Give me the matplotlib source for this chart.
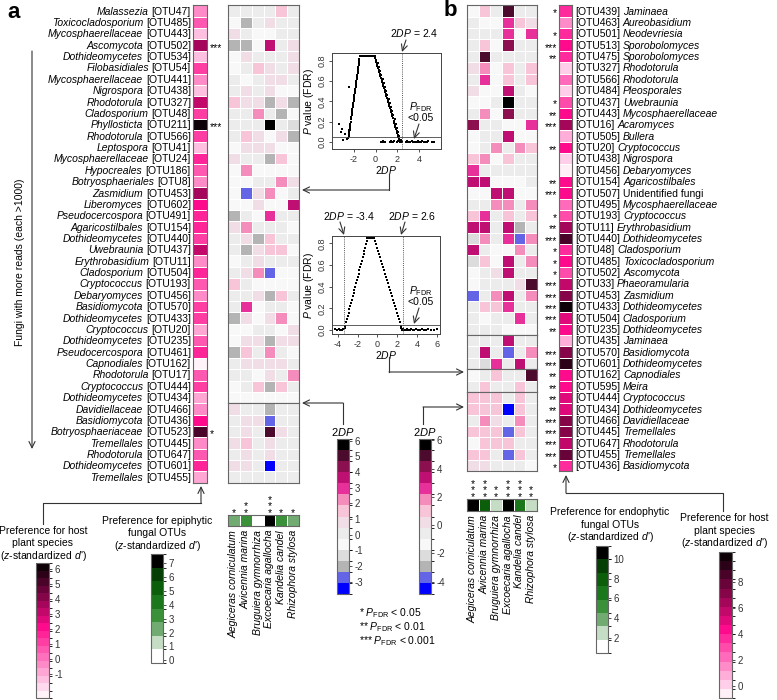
import matplotlib
matplotlib.use("Agg")
import matplotlib.pyplot as plt
import numpy as np
from matplotlib.colors import ListedColormap, BoundaryNorm, LinearSegmentedColormap
from matplotlib.cm import ScalarMappable

plt.rcParams["font.family"] = ["Liberation Sans", "DejaVu Sans"]
plt.rcParams["mathtext.fontset"] = "custom"
plt.rcParams["mathtext.rm"] = "Liberation Sans"
plt.rcParams["mathtext.it"] = "Liberation Sans:italic"
plt.rcParams["mathtext.bf"] = "Liberation Sans:bold"
plt.rcParams["axes.unicode_minus"] = False

W, H = 777, 700

# ---------------- data ----------------
species = ["Aegiceras corniculatum", "Avicennia marina", "Bruguiera gymnorrhiza",
           "Excoecaria agallocha", "Kandelia candel", "Rhizophora stylosa"]

a_taxa = ["Malassezia", "Toxicocladosporium", "Mycosphaerellaceae", "Ascomycota", "Dothideomycetes",
          "Filobasidiales", "Mycosphaerellaceae", "Nigrospora", "Rhodotorula", "Cladosporium",
          "Phyllosticta", "Rhodotorula", "Leptospora", "Mycosphaerellaceae", "Hypocreales",
          "Botryosphaeriales", "Zasmidium", "Liberomyces", "Pseudocercospora", "Agaricostilbales",
          "Dothideomycetes", "Uwebraunia", "Erythrobasidium", "Cladosporium", "Cryptococcus",
          "Debaryomyces", "Basidiomycota", "Dothideomycetes", "Cryptococcus", "Dothideomycetes",
          "Pseudocercospora", "Capnodiales", "Rhodotorula", "Cryptococcus", "Dothideomycetes",
          "Davidiellaceae", "Basidiomycota", "Botryosphaeriaceae", "Tremellales", "Rhodotorula",
          "Dothideomycetes", "Tremellales"]
a_otus = ["OTU47", "OTU485", "OTU443", "OTU502", "OTU534", "OTU54", "OTU441", "OTU438", "OTU327",
          "OTU48", "OTU211", "OTU566", "OTU41", "OTU24", "OTU186", "OTU8", "OTU453", "OTU602",
          "OTU491", "OTU154", "OTU440", "OTU437", "OTU11", "OTU504", "OTU193", "OTU456", "OTU570",
          "OTU433", "OTU20", "OTU235", "OTU461", "OTU162", "OTU17", "OTU444", "OTU434", "OTU466",
          "OTU436", "OTU523", "OTU445", "OTU647", "OTU601", "OTU455"]
a_sig = ["", "", "", "***", "", "", "", "", "", "", "***", "", "", "", "", "", "", "", "", "", "",
         "", "", "", "", "", "", "", "", "", "", "", "", "", "", "", "", "*", "", "", "", ""]
a_host = [-0.4, 0.6, -1.4, 3.7, -1.4, 1.1, -0.4, -1.4, 3.2, 1.1, 6.2, 1.1, -1.4, 1.7, 0.6, -0.4,
          3.7, 2.2, 1.7, 1.7, 1.1, 3.2, -0.4, 1.7, 0.6, -0.4, 1.1, 1.1, -0.9, 0.6, 1.7, -2.4, 0.6,
          1.1, -0.9, -0.4, 2.2, 5.2, -0.4, 0.6, 1.7, -0.9]
a_2dp = [
    [0.1, 0.1, 0.1, 0.1, 1.5, 0.1],
    [-0.6, -2.0, 0.1, 0.8, 0.1, 0.1],
    [0.8, 0.1, -0.6, -0.6, 0.1, 0.1],
    [-2.0, -2.0, -0.6, 3.6, 0.1, 0.8],
    [-0.6, 0.8, 0.1, 0.1, 0.1, 0.8],
    [-0.6, 0.1, 1.5, 0.8, 0.1, 0.8],
    [0.1, -0.6, 0.1, 0.8, 0.8, 0.1],
    [0.1, 0.8, 0.1, 0.8, -0.6, -0.6],
    [1.5, 0.8, 0.8, -2.0, 0.8, -2.0],
    [0.1, 0.1, 2.2, 0.1, -2.0, -0.6],
    [0.1, 0.1, 0.1, 5.7, 0.1, -1.3],
    [0.1, 1.5, 0.8, -0.6, 0.8, -2.0],
    [-0.6, 0.8, 0.8, 0.8, -0.6, -0.6],
    [0.8, 0.1, 0.1, -2.0, 1.5, -0.6],
    [-0.6, 2.2, -0.6, -0.6, -0.6, -0.6],
    [-0.6, -0.6, 0.1, 0.1, 2.2, 0.8],
    [-0.6, -2.7, 0.8, 2.2, -0.6, 0.1],
    [-0.6, -0.6, 0.8, -0.6, -0.6, 3.6],
    [-2.0, 0.1, -0.6, 2.9, 0.1, 0.1],
    [0.8, 2.2, 0.1, 0.1, 0.1, -0.6],
    [0.1, 0.8, -2.0, 1.5, 0.1, 0.1],
    [0.1, -2.0, 0.8, 1.5, 1.5, -0.6],
    [-0.6, 0.1, 0.8, 0.1, 0.1, 0.1],
    [0.1, 0.8, 2.2, -2.7, -0.6, -0.6],
    [1.5, 0.1, -0.6, -0.6, -0.6, -0.6],
    [0.1, 0.1, 0.8, -2.0, 1.5, 0.1],
    [0.1, 2.9, -0.6, 0.1, 0.1, -0.6],
    [-2.0, 0.8, -0.6, 0.8, 2.2, -0.6],
    [-0.6, -0.6, 0.1, 0.1, -0.6, 0.8],
    [-0.6, 0.8, 0.8, -2.0, 0.8, 0.8],
    [-2.0, 1.5, 0.1, 2.2, 0.1, -0.6],
    [0.1, 0.8, 0.8, 0.8, 0.8, 0.1],
    [0.1, 0.1, -0.6, 0.8, 0.1, 2.2],
    [-0.6, 0.1, 1.5, -2.0, 1.5, 0.1],
    [-0.6, -0.6, -0.6, -0.6, -0.6, -0.6],
    [0.8, 0.1, 0.1, -2.0, 0.1, 0.1],
    [0.1, 0.8, 0.8, -2.7, 0.1, 0.1],
    [0.1, 0.8, 0.1, 5.0, 0.8, 0.1],
    [0.8, 1.5, 0.1, 0.8, 0.1, 0.1],
    [0.1, 0.8, 0.1, 0.8, 0.1, 0.1],
    [0.8, 0.8, 0.1, -3.4, 0.1, 0.1],
    [0.1, 0.1, 0.1, 0.1, 0.1, 0.1],
]
a_blocks = [(0, 35), (35, 42)]
a_strip = [2.3, 3.2, 0.3, 7.2, 3.2, 2.3]
a_strip_sig = [1, 2, 0, 3, 1, 1]

b_otus = ["OTU439", "OTU463", "OTU501", "OTU513", "OTU475", "OTU327", "OTU566", "OTU484", "OTU437",
          "OTU443", "OTU16", "OTU505", "OTU20", "OTU438", "OTU456", "OTU154", "OTU507", "OTU495",
          "OTU193", "OTU11", "OTU440", "OTU48", "OTU485", "OTU502", "OTU33", "OTU453", "OTU433",
          "OTU504", "OTU235", "OTU435", "OTU570", "OTU601", "OTU162", "OTU595", "OTU444", "OTU434",
          "OTU466", "OTU445", "OTU647", "OTU455", "OTU436"]
b_taxa = ["Jaminaea", "Aureobasidium", "Neodevriesia", "Sporobolomyces", "Sporobolomyces",
          "Rhodotorula", "Rhodotorula", "Pleosporales", "Uwebraunia", "Mycosphaerellaceae",
          "Acaromyces", "Bullera", "Cryptococcus", "Nigrospora", "Debaryomyces", "Agaricostilbales",
          "Unidentified fungi", "Mycosphaerellaceae", "Cryptococcus", "Erythrobasidium",
          "Dothideomycetes", "Cladosporium", "Toxicocladosporium", "Ascomycota", "Phaeoramularia",
          "Zasmidium", "Dothideomycetes", "Cladosporium", "Dothideomycetes", "Jaminaea",
          "Basidiomycota", "Dothideomycetes", "Capnodiales", "Meira", "Cryptococcus",
          "Dothideomycetes", "Davidiellaceae", "Tremellales", "Rhodotorula", "Tremellales",
          "Basidiomycota"]
b_sig = ["*", "", "*", "***", "**", "", "", "", "*", "**", "***", "", "**", "", "", "**", "***", "",
         "*", "**", "***", "*", "*", "*", "***", "***", "***", "***", "**", "", "***", "***", "**",
         "**", "**", "**", "***", "***", "***", "***", "*"]
b_host = [3.6, 1.5, 3.6, 4.3, 3.6, 0.1, 2.2, 0.1, 2.9, 4.3, 6.4, 0.8, 4.3, 0.1, -0.6, 4.3, 4.3, 2.2,
          2.9, 6.4, 8.5, 3.6, 4.3, 2.9, 5.7, 7.1, 9.9, 5.0, 4.3, 0.8, 7.1, 9.2, 4.3, 4.3, 5.0, 5.0,
          7.1, 7.1, 5.7, 7.8, 3.6]
b_2dp = [
    [-1.3, 1.0, -0.5, 5.0, -0.5, -0.5],
    [-0.5, -1.3, -1.3, 2.6, 1.0, 0.2],
    [-0.5, -0.5, -0.5, 2.6, -1.3, 2.6],
    [-0.5, 1.0, -1.3, 4.2, -0.5, -0.5],
    [-0.5, 5.3, -0.5, -0.5, -0.5, -0.5],
    [0.2, 1.8, -1.3, 1.0, -0.5, 1.0],
    [-0.5, 2.6, -1.3, 1.0, -0.5, 1.0],
    [0.2, -1.3, -1.3, 3.4, -0.5, -1.3],
    [-1.3, -1.3, -0.5, 5.7, -0.5, -0.5],
    [-0.5, 1.8, -1.3, 4.2, -0.5, -0.5],
    [4.2, -0.5, -0.5, -1.3, -1.3, 2.6],
    [-1.3, -0.5, -0.5, 3.4, -1.3, -1.3],
    [-1.3, -0.5, 1.8, -0.5, 1.8, 1.0],
    [1.0, 1.8, -1.3, 1.0, -0.5, -0.5],
    [2.6, -0.5, -0.5, -0.5, -0.5, -0.5],
    [3.4, 3.4, -1.3, -1.3, -1.3, -0.5],
    [-1.3, -1.3, 3.4, 3.4, -1.3, -1.3],
    [-0.5, -0.5, 1.8, 1.8, -0.5, 1.8],
    [1.0, 2.6, -0.5, 1.0, -0.5, 1.0],
    [3.4, 3.4, -0.5, 3.4, -2.9, -0.5],
    [-2.1, 1.8, -0.5, 2.6, -3.7, 1.8],
    [3.4, -0.5, -1.3, -1.3, 1.8, -0.5],
    [-2.1, 1.0, -1.3, 3.4, -0.5, 1.8],
    [-1.3, -0.5, 0.2, 3.4, -0.5, -0.5],
    [-1.3, -0.5, -0.5, -0.5, 0.2, 5.0],
    [-3.7, -0.5, 1.8, 3.4, -0.5, 1.8],
    [-0.5, 1.0, 1.0, 2.6, -0.5, -0.5],
    [-0.5, -1.3, -0.5, -0.5, 2.6, -0.5],
    [-0.5, -0.5, -0.5, -1.3, -1.3, -1.3],
    [-0.5, -0.5, -0.5, 3.4, -0.5, -0.5],
    [-0.5, 3.4, -0.5, -3.7, -0.5, 1.8],
    [-0.5, -2.1, 2.6, -0.5, 3.4, -0.5],
    [-1.3, -0.5, 1.0, -0.5, -0.5, 5.0],
    [-0.5, 1.0, -0.5, -0.5, 1.0, -0.5],
    [1.0, 1.0, 1.0, -0.5, 1.0, -0.5],
    [1.0, 1.0, 1.0, -4.5, 1.0, -0.5],
    [-0.5, 1.8, 0.2, -0.5, 1.8, -0.5],
    [1.0, 1.0, 1.0, -3.7, 1.0, -0.5],
    [-1.3, 1.0, 1.0, 1.0, -0.5, -0.5],
    [1.0, 1.0, -0.5, -3.7, 1.0, -0.5],
    [0.2, 0.2, -0.5, -0.5, -0.5, -1.3],
]
b_blocks = [(0, 29), (29, 32), (32, 34), (34, 41)]
b_strip = [10.6, 7.9, 2.5, 10.6, 6.5, 2.5]
b_strip_sig = [3, 3, 2, 3, 3, 2]

# null-model scatter, panel a (2DP vs FDR P)
up_peak_x = [-1.45, -1.35, -1.25, -1.15, -1.05, -0.95, -0.85, -0.75, -0.65, -0.55, -0.45, -0.35, -0.25, -0.15, -0.05]
up_peak_y = [0.85, 0.85, 0.85, 0.85, 0.85, 0.85, 0.85, 0.85, 0.85, 0.85, 0.85, 0.85, 0.85, 0.85, 0.85]
up_left_x = [-1.48, -1.50, -1.53, -1.55, -1.58, -1.61, -1.63, -1.66, -1.68, -1.71, -1.74, -1.76, -1.79, -1.81,
             -1.84, -1.86, -1.89, -1.92, -1.94, -1.97, -1.99, -2.02, -2.05, -2.07, -2.10, -2.12, -2.15, -2.18,
             -2.20, -2.23, -2.25, -2.28, -2.31, -2.33, -2.36, -2.38, -2.41, -2.44, -2.46, -2.49]
up_left_y = [0.82, 0.80, 0.78, 0.76, 0.74, 0.72, 0.70, 0.68, 0.66, 0.64, 0.62, 0.60, 0.58, 0.56, 0.54, 0.52,
             0.50, 0.48, 0.46, 0.44, 0.42, 0.40, 0.38, 0.36, 0.34, 0.32, 0.30, 0.28, 0.26, 0.24, 0.22, 0.20,
             0.18, 0.16, 0.14, 0.12, 0.10, 0.08, 0.06, 0.04]
up_right_x = [-0.05, 0.00, 0.06, 0.11, 0.17, 0.22, 0.28, 0.33, 0.39, 0.44, 0.50, 0.55, 0.61, 0.66, 0.72, 0.77,
              0.83, 0.88, 0.94, 0.99, 1.05, 1.10, 1.16, 1.21, 1.27, 1.32, 1.37, 1.43, 1.48, 1.54, 1.59, 1.65,
              1.70, 1.76, 1.81, 1.87, 1.92, 1.98, 2.03, 2.09, 2.14, 2.20,
              0.21, 0.32, 0.43, 0.54, 0.65, 0.76, 0.86, 0.97, 1.08, 1.19, 1.30, 1.41, 1.52, 1.63, 1.74, 1.85,
              1.96, 2.07, 2.18, 2.29]
up_right_y = [0.83, 0.81, 0.79, 0.77, 0.75, 0.73, 0.71, 0.69, 0.67, 0.65, 0.63, 0.61, 0.59, 0.57, 0.55, 0.53,
              0.51, 0.49, 0.47, 0.45, 0.43, 0.41, 0.39, 0.37, 0.35, 0.33, 0.31, 0.29, 0.27, 0.25, 0.23, 0.21,
              0.19, 0.17, 0.15, 0.13, 0.11, 0.09, 0.07, 0.05, 0.03, 0.01,
              0.78, 0.74, 0.70, 0.66, 0.62, 0.58, 0.54, 0.50, 0.46, 0.42, 0.38, 0.34, 0.30, 0.26, 0.22, 0.18,
              0.14, 0.10, 0.06, 0.02]
up_floor_x = [0.45, 0.55, 0.65, 0.75, 0.90, 1.30, 1.40, 1.50, 1.60, 1.70, 2.00, 2.10, 2.20, 2.30, 2.40, 2.75,
              2.85, 2.95, 3.05, 3.20, 3.30, 3.40, 3.50, 3.70, 3.80, 3.90, 4.00, 4.10, 4.20, 4.30, 4.40, 4.50,
              4.60, 4.70, 4.80, 5.20, 5.30, 5.40]
up_floor_y = [0.00, 0.00, 0.01, 0.00, 0.00, 0.00, 0.01, 0.00, 0.00, 0.01, 0.00, 0.01, 0.00, 0.01, 0.00, 0.00,
              0.01, 0.00, 0.00, 0.00, 0.01, 0.00, 0.00, 0.00, 0.00, 0.01, 0.00, 0.00, 0.00, 0.01, 0.00, 0.00,
              0.00, 0.00, 0.01, 0.00, 0.00, 0.00]
up_out_x = [-2.46, -2.16, -2.22, -2.46, -2.85, -3.06, -3.20, -3.36, -2.60, -3.00]
up_out_y = [0.54, 0.30, 0.23, 0.12, 0.08, 0.13, 0.10, 0.18, 0.03, 0.02]

# null-model scatter, panel b
lo_peak_x = [-1.00, -0.90, -0.80, -0.70, -0.60, -0.50, -0.40, -0.30]
lo_peak_y = [0.85, 0.85, 0.85, 0.85, 0.85, 0.85, 0.85, 0.85]
lo_left_x = [-1.06, -1.14, -1.22, -1.31, -1.39, -1.48, -1.56, -1.64, -1.73, -1.81, -1.90, -1.98, -2.06, -2.15,
             -2.23, -2.32, -2.40, -2.48, -2.57, -2.65, -2.74, -2.82, -2.90, -2.99, -3.07, -3.16, -3.24, -3.30]
lo_left_y = [0.82, 0.79, 0.76, 0.73, 0.70, 0.67, 0.64, 0.61, 0.58, 0.55, 0.52, 0.49, 0.46, 0.43, 0.40, 0.37,
             0.34, 0.31, 0.28, 0.25, 0.22, 0.19, 0.16, 0.13, 0.10, 0.07, 0.04, 0.02]
lo_right_x = [-0.23, -0.14, -0.04, 0.06, 0.16, 0.26, 0.36, 0.46, 0.56, 0.66, 0.76, 0.86, 0.95, 1.05, 1.15, 1.25,
              1.35, 1.45, 1.55, 1.65, 1.75, 1.85, 1.95, 2.04, 2.14, 2.24, 2.34, 2.41]
lo_right_y = [0.82, 0.79, 0.76, 0.73, 0.70, 0.67, 0.64, 0.61, 0.58, 0.55, 0.52, 0.49, 0.46, 0.43, 0.40, 0.37,
              0.34, 0.31, 0.28, 0.25, 0.22, 0.19, 0.16, 0.13, 0.10, 0.07, 0.04, 0.02]
lo_floor_x = [-4.30, -4.10, -3.90, -3.75, -3.60, -3.50, 2.50, 2.60, 2.70, 2.85, 3.00, 3.10, 3.25, 3.40, 3.55,
              3.70, 3.90, 4.10, 4.30, 4.50, 4.70, 4.90, 5.10, 5.40, 5.70, 6.00]
lo_floor_y = [0.01, 0.00, 0.01, 0.00, 0.00, 0.01, 0.00, 0.01, 0.00, 0.00, 0.01, 0.00, 0.00, 0.01, 0.00,
              0.00, 0.01, 0.00, 0.00, 0.01, 0.00, 0.00, 0.01, 0.00, 0.00, 0.01]

# ---------------- colours ----------------
dp_colors = ["#0000ff", "#6464e6", "#b4b4b4", "#dcdcdc", "#f8f8f8", "#ececec", "#f0dde6",
             "#f8c4d8", "#f48cbc", "#e8309a", "#c00f72", "#8c0f50", "#4c0a2c", "#000000"]
green_colors = ["#ffffff", "#c4ddc4", "#72ab72", "#3a913a", "#1b771b", "#0b5f0b", "#063f06", "#000000"]


def pink_colors(n, peak):
    cm = LinearSegmentedColormap.from_list("pk", [(0, "#ffffff"), (peak, "#ff0a8c"), (1, "#000000")])
    return [cm((i + 0.5) / n) for i in range(n)]


def make_norm(colors, lo, hi):
    return ListedColormap(colors), BoundaryNorm(np.linspace(lo, hi, len(colors) + 1), len(colors))


dpa_cmap, dpa_norm = make_norm(dp_colors, -3.77, 6.1)
dpb_cmap, dpb_norm = make_norm(dp_colors, -4.88, 6.1)
hosta_cmap, hosta_norm = make_norm(pink_colors(18, 9.5 / 18), -2.6, 6.4)
hostb_cmap, hostb_norm = make_norm(pink_colors(16, 7.5 / 16), -0.95, 10.3)
gra_cmap, gra_norm = make_norm(green_colors, -0.2, 7.68)
grb_cmap, grb_norm = make_norm(green_colors, 0.45, 11.3)

# ---------------- figure ----------------
fig = plt.figure(figsize=(W / 100, H / 100), dpi=100)
ROW0, ROWH = 5.3, 11.37
FS = 7.5


def box(x0, y0, x1, y1):
    return fig.add_axes([x0 / W, 1 - y1 / H, (x1 - x0) / W, (y1 - y0) / H])


def frame(ax):
    ax.set_xticks([])
    ax.set_yticks([])
    for s in ax.spines.values():
        s.set_color("#666666")
        s.set_linewidth(0.8)


def row_y(i):
    return ROW0 + (i + 0.5) * ROWH


def heat(x0, x1, vals, r0, r1, cmap, norm):
    ax = box(x0, ROW0 + r0 * ROWH, x1, ROW0 + r1 * ROWH)
    arr = np.asarray(vals[r0:r1], dtype=float)
    if arr.ndim == 1:
        arr = arr[:, None]
    ax.pcolormesh(arr, cmap=cmap, norm=norm, edgecolors="white", linewidth=0.7)
    ax.set_xlim(0, arr.shape[1])
    ax.set_ylim(arr.shape[0], 0)
    frame(ax)
    return ax


def strip(x0, x1, y0, y1, vals, cmap, norm):
    ax = box(x0, y0, x1, y1)
    ax.pcolormesh(np.asarray([vals], dtype=float), cmap=cmap, norm=norm, edgecolors="white", linewidth=0.7)
    ax.set_xlim(0, len(vals))
    ax.set_ylim(1, 0)
    frame(ax)


def cbar(x0, y0, x1, y1, cmap, norm, ticks):
    cax = box(x0, y0, x1, y1)
    cb = fig.colorbar(ScalarMappable(norm=norm, cmap=cmap), cax=cax, ticks=ticks)
    cb.outline.set_edgecolor("#666666")
    cb.outline.set_linewidth(0.8)
    cax.tick_params(labelsize=7, length=2.5, width=0.6, colors="#333333", pad=1.5)
    return cb


# panel a heatmaps
AX0, AX1 = 228, 299
for r0, r1 in a_blocks:
    heat(AX0, AX1, a_2dp, r0, r1, dpa_cmap, dpa_norm)
heat(193, 207, a_host, 0, len(a_host), hosta_cmap, hosta_norm)
A_STRIP = 515
strip(AX0, AX1, A_STRIP, A_STRIP + 11, a_strip, gra_cmap, gra_norm)

# panel b heatmaps
BX0, BX1 = 467, 537
for r0, r1 in b_blocks:
    heat(BX0, BX1, b_2dp, r0, r1, dpb_cmap, dpb_norm)
heat(559, 572, b_host, 0, len(b_host), hostb_cmap, hostb_norm)
B_STRIP = 499
strip(BX0, BX1, B_STRIP, B_STRIP + 12, b_strip, grb_cmap, grb_norm)

# colour bars
cbar(36, 563, 49, 698, hosta_cmap, hosta_norm, [-1, 0, 1, 2, 3, 4, 5, 6])
cbar(151, 554, 163, 663, gra_cmap, gra_norm, [0, 1, 2, 3, 4, 5, 6, 7])
cbar(337, 439, 349, 594, dpa_cmap, dpa_norm, [-3, -2, -1, 0, 1, 2, 3, 4, 5, 6])
cbar(419, 439, 431, 594, dpb_cmap, dpb_norm, [-4, -2, 0, 2, 4, 6])
cbar(596, 546, 608, 653, grb_cmap, grb_norm, [2, 4, 6, 8, 10])
cbar(719, 552, 732, 698, hostb_cmap, hostb_norm, [0, 2, 4, 6, 8])


# scatter panels
def null_panel(rect, xs, ys, xlim, ylim, xticks, vlines):
    ax = box(*rect)
    for x, y in zip(xs, ys):
        ax.scatter(x, y, s=2.2, c="black", marker="s", linewidths=0)
    for v in vlines:
        ax.axvline(v, color="#555555", lw=0.7, ls=(0, (1, 1.2)))
    ax.axhline(0.05, color="#444444", lw=0.6)
    ax.set_xlim(*xlim)
    ax.set_ylim(*ylim)
    ax.set_xticks(xticks)
    ax.set_xticklabels([str(t) for t in xticks])
    ax.set_yticks([0.0, 0.2, 0.4, 0.6, 0.8])
    ax.set_yticklabels(["0.0", "0.2", "0.4", "0.6", "0.8"], rotation=90, va="center")
    ax.tick_params(labelsize=6.5, length=2.5, width=0.6, pad=1.5, colors="#333333")
    ax.set_xlabel(r"$\mathit{2DP}$", fontsize=FS, labelpad=0)
    ax.set_ylabel(r"$\mathit{P}$ value (FDR)", fontsize=FS, labelpad=1)
    for s in ax.spines.values():
        s.set_color("#444444")
        s.set_linewidth(0.7)
    return ax


null_panel((332, 53, 441, 149),
           [up_peak_x, up_left_x, up_right_x, up_floor_x, up_out_x],
           [up_peak_y, up_left_y, up_right_y, up_floor_y, up_out_y],
           (-4.0, 6.0), (-0.072, 0.878), [-2, 0, 2, 4], [2.4])
null_panel((332, 236, 440, 334),
           [lo_peak_x, lo_left_x, lo_right_x, lo_floor_x],
           [lo_peak_y, lo_left_y, lo_right_y, lo_floor_y],
           (-4.57, 6.3), (-0.037, 0.867), [-4, -2, 0, 2, 4, 6], [-3.4, 2.6])

# ---------------- overlay: text & connectors ----------------
ov = fig.add_axes([0, 0, 1, 1])
ov.set_xlim(0, W)
ov.set_ylim(H, 0)
ov.axis("off")
renderer = fig.canvas.get_renderer()

LC = "#333333"
arrow_kw = dict(arrowstyle="->,head_length=0.45,head_width=0.22", lw=0.8, color=LC, shrinkA=0, shrinkB=0)


def connector(pts):
    xs = [p[0] for p in pts]
    ys = [p[1] for p in pts]
    ov.plot(xs[:-1], ys[:-1], color=LC, lw=0.8)
    ov.annotate("", xy=pts[-1], xytext=pts[-2], arrowprops=arrow_kw)


ov.text(14, 13, "a", fontsize=16, fontweight="bold", ha="center", va="center")
ov.text(450, 11, "b", fontsize=16, fontweight="bold", ha="center", va="center")

GAP = 2.9  # width of a space
for i, (t, o) in enumerate(zip(a_taxa, a_otus)):
    yb = row_y(i) + 3.6
    tag = ov.text(191, yb, f"[{o}]", ha="right", va="baseline", fontsize=FS)
    w = tag.get_window_extent(renderer).width
    ov.text(191 - w - GAP, yb, t, ha="right", va="baseline", fontsize=FS, fontstyle="italic")
    if a_sig[i]:
        ov.text(210, row_y(i) + 5.5, a_sig[i], ha="left", va="baseline", fontsize=FS)

for i, (t, o) in enumerate(zip(b_taxa, b_otus)):
    yb = row_y(i) + 3.6
    tag = ov.text(575, yb, f"[{o}]", ha="left", va="baseline", fontsize=FS)
    w = tag.get_window_extent(renderer).width
    ov.text(575 + w + GAP, yb, t, ha="left", va="baseline", fontsize=FS,
            fontstyle="normal" if " " in t else "italic")
    if b_sig[i]:
        ov.text(557, row_y(i) + 5.5, b_sig[i], ha="right", va="baseline", fontsize=FS)

# species labels and strip stars
for x0, x1, top, h, stars in [(AX0, AX1, A_STRIP, 11, a_strip_sig), (BX0, BX1, B_STRIP, 12, b_strip_sig)]:
    cw = (x1 - x0) / 6
    for j, sp in enumerate(species):
        cx = x0 + cw * (j + 0.5)
        ov.text(cx, top + h + 4, sp, rotation=90, ha="center", va="top", fontsize=FS, fontstyle="italic")
        if stars[j]:
            ov.text(cx, top + 2.7, "\n".join(["*"] * stars[j]), ha="center", va="bottom",
                    fontsize=FS, linespacing=0.57)

ov.text(20, 262, "Fungi with more reads (each >1000)", rotation=90, ha="center", va="center", fontsize=FS)
ov.annotate("", xy=(32, 449), xytext=(32, 51), arrowprops=arrow_kw)

# scatter annotations
ov.text(414, 33, r"$\mathit{2DP}$ = 2.4", ha="center", va="center", fontsize=FS)
ov.annotate("", xy=(402, 52), xytext=(406, 40), arrowprops=arrow_kw)
ov.text(421, 107, r"$\mathit{P}_{\mathrm{FDR}}$", ha="center", va="center", fontsize=FS)
ov.text(421, 118, "<0.05", ha="center", va="center", fontsize=FS)
ov.annotate("", xy=(414, 139), xytext=(419, 124), arrowprops=arrow_kw)

ov.text(349, 216, r"$\mathit{2DP}$ = -3.4", ha="center", va="center", fontsize=FS)
ov.annotate("", xy=(344, 235), xytext=(340, 222), arrowprops=arrow_kw)
ov.text(412, 216, r"$\mathit{2DP}$ = 2.6", ha="center", va="center", fontsize=FS)
ov.annotate("", xy=(401, 235), xytext=(405, 222), arrowprops=arrow_kw)
ov.text(421, 291, r"$\mathit{P}_{\mathrm{FDR}}$", ha="center", va="center", fontsize=FS)
ov.text(421, 302, "<0.05", ha="center", va="center", fontsize=FS)
ov.annotate("", xy=(414, 324), xytext=(419, 308), arrowprops=arrow_kw)

# connectors
connector([(389, 174), (389, 190), (302, 190)])
connector([(343, 424), (343, 403), (302, 403)])
connector([(389, 357), (389, 372), (464, 372)])
connector([(423, 424), (423, 407), (464, 407)])
connector([(43, 524), (43, 503), (201, 503), (201, 486)])
connector([(723, 511), (723, 493), (566, 493), (566, 475)])

# colour bar titles
ov.text(343, 432, r"$\mathit{2DP}$", ha="center", va="center", fontsize=8)
ov.text(425, 432, r"$\mathit{2DP}$", ha="center", va="center", fontsize=8)

zlab = r"($\mathit{z}$-standardized $\mathit{d}$')"
for cx, y1, l1, l2 in [(43, 531, "Preference for host", "plant species"),
                       (157, 521, "Preference for epiphytic", "fungal OTUs"),
                       (610, 512, "Preference for endophytic", "fungal OTUs"),
                       (724, 518, "Preference for host", "plant species")]:
    ov.text(cx, y1, l1, ha="center", va="center", fontsize=FS)
    ov.text(cx, y1 + 12.5, l2, ha="center", va="center", fontsize=FS)
    ov.text(cx, y1 + 25, zlab, ha="center", va="center", fontsize=FS)

# significance legend (one block of three lines)
legend_lines = [st + r" $\mathit{P}_{\mathrm{FDR}}$ < " + p
                for st, p in [("*", "0.05"), ("**", "0.01"), ("***", "0.001")]]
ov.text(359, 627, "\n".join(legend_lines), ha="left", va="center", fontsize=FS, linespacing=1.0)

fig.savefig("out.png", dpi=100)
